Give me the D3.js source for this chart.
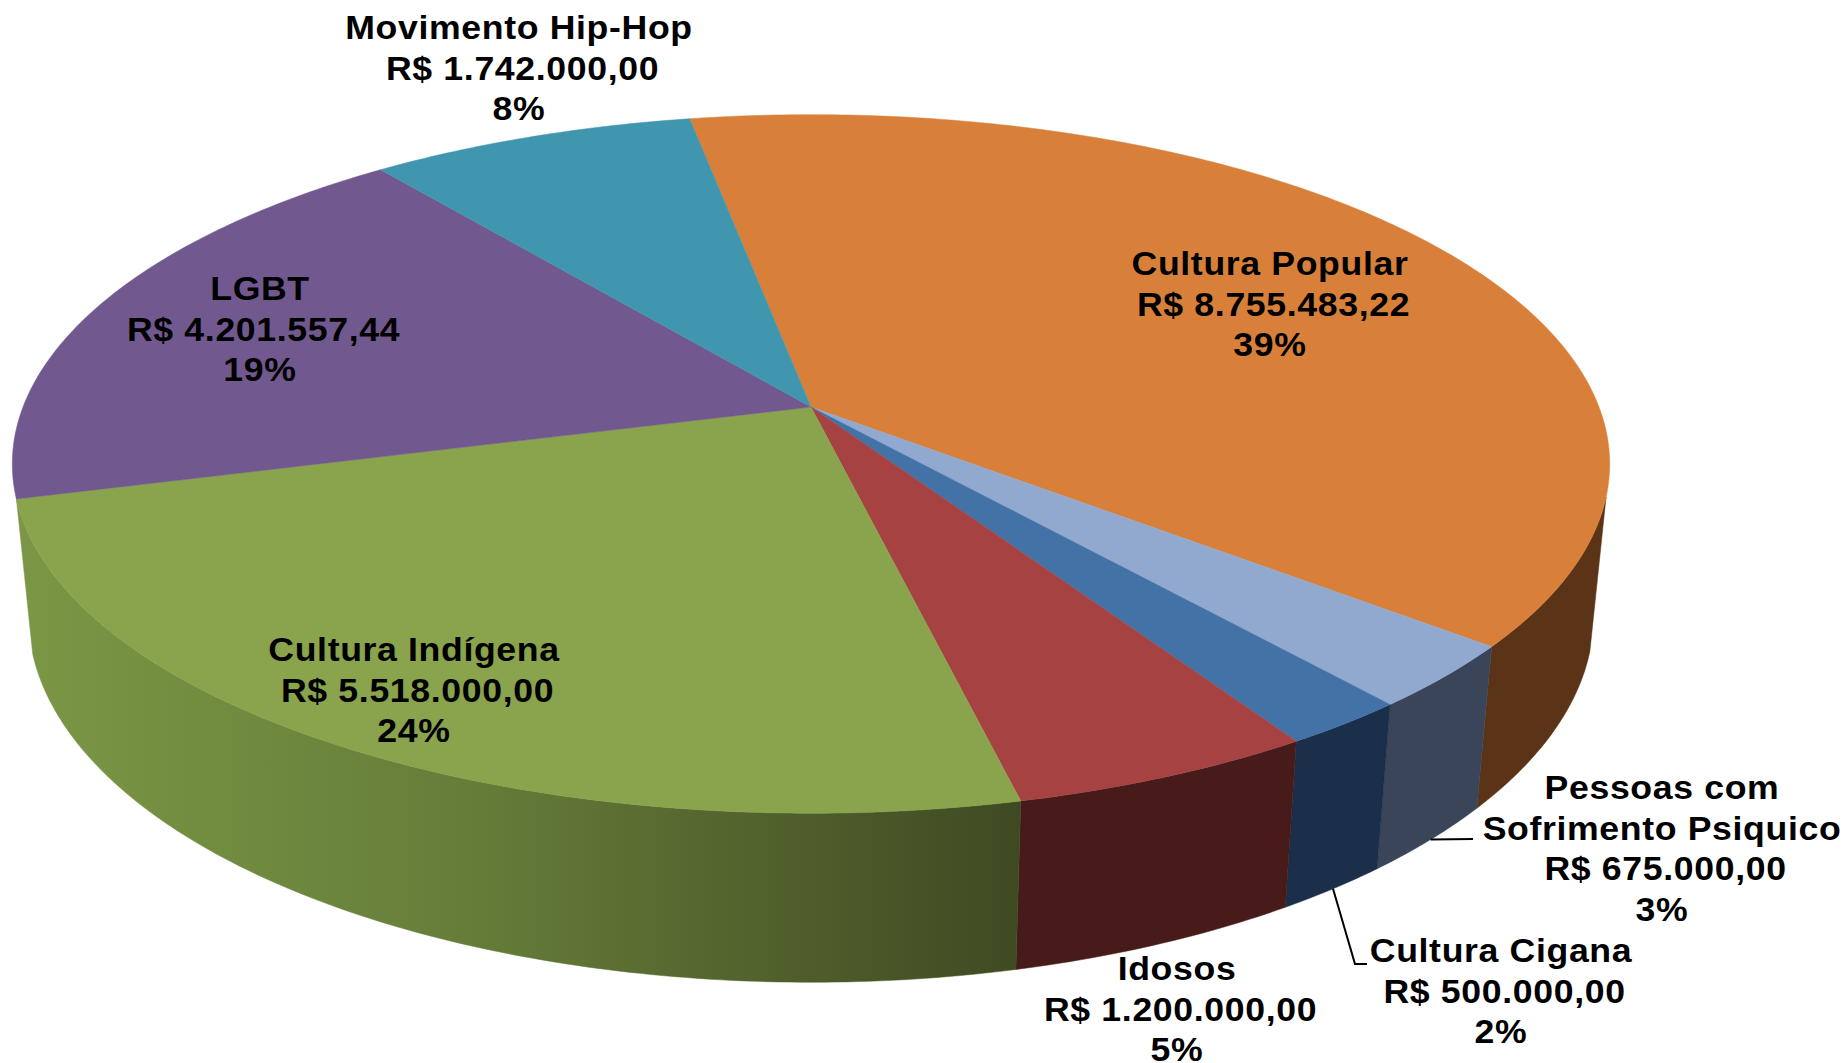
<!DOCTYPE html>
<html lang="pt">
<head>
<meta charset="utf-8">
<title>Pie chart</title>
<script src="https://cdn.jsdelivr.net/npm/d3@7"></script>
<style>
  html, body { margin: 0; padding: 0; background: #fff; }
  svg { display: block; }
  .label text { font-family: "Liberation Sans", Arial, sans-serif; font-weight: bold; font-size: 33px; letter-spacing: 0.6px; text-anchor: middle; fill: #000; }
</style>
</head>
<body>
<div id="chart"></div>
<script>
// clockwise from the top of the pie
const categories = ["Cultura Popular", "Pessoas com|Sofrimento Psiquico", "Cultura Cigana", "Idosos", "Cultura Indígena", "LGBT", "Movimento Hip-Hop"];
const values = [8755483.22, 675000, 500000, 1200000, 5518000, 4201557.44, 1742000];
const amounts = ["R$ 8.755.483,22", "R$ 675.000,00", "R$ 500.000,00", "R$ 1.200.000,00", "R$ 5.518.000,00", "R$ 4.201.557,44", "R$ 1.742.000,00"];
const percents = ["39%", "3%", "2%", "5%", "24%", "19%", "8%"];

const topColors = ["#d8803a", "#92a9cf", "#4272a6", "#a64342", "#8aa34d", "#71588f", "#4096ae"];
const wallColors = ["#5b3317", "#3a4559", "#1b2f4b", "#461b19", "url(#greenWall)", "#3f2f52", "#225566"];

// first line baseline of each label, and its centre
const labelAnchors = [[1270, 275], [1662, 799], [1501, 962], [1177, 980], [414, 661], [260, 300], [519, 39]];

const width = 1848, height = 1063;

// perspective of the pie disc, fitted by eye on the reference
const cx = 811, cy = 407;
const A = 788, B = 340, C = 153, p = 0.163, q = 0.02;
const startDeg = -10.3;
// the wall is only seen between these two angles (where its outline is tangent)
const wallFrom = 104.7 * Math.PI / 180, wallTo = 254.9 * Math.PI / 180;

function project(a, r, h) {
  const u = r * Math.sin(a), v = -r * Math.cos(a);
  const w = 1 - p * v + q * h;
  return [cx + A * u / w, cy + (B * v + C * h) / w];
}

function sampleAngles(a0, a1) {
  const n = Math.max(8, Math.ceil((a1 - a0) * 80));
  return d3.range(n + 1).map(i => a0 + (a1 - a0) * i / n);
}

const pie = d3.pie()
  .sort(null)
  .startAngle(startDeg * Math.PI / 180)
  .endAngle((startDeg + 360) * Math.PI / 180);

const slices = pie(values);
const line = d3.line();

const svg = d3.select("#chart")
  .append("svg")
  .attr("width", width)
  .attr("height", height);

const grad = svg.append("defs").append("linearGradient")
  .attr("id", "greenWall")
  .attr("gradientUnits", "userSpaceOnUse")
  .attr("x1", 17).attr("x2", 1018).attr("y1", 0).attr("y2", 0);
grad.append("stop").attr("offset", 0).attr("stop-color", "#7b9745");
grad.append("stop").attr("offset", 0.45).attr("stop-color", "#667d39");
grad.append("stop").attr("offset", 1).attr("stop-color", "#3f4a22");

svg.append("g").selectAll("path")
  .data(slices.map((d, i) => ({ a0: Math.max(d.startAngle, wallFrom), a1: Math.min(d.endAngle, wallTo), i })).filter(s => s.a1 > s.a0))
  .enter().append("path")
  .attr("d", s => {
    const angles = sampleAngles(s.a0, s.a1);
    const front = angles.map(a => project(a, 1, 0));
    const back = angles.map(a => project(a, 1, 1)).reverse();
    return line(front.concat(back)) + "Z";
  })
  .attr("fill", s => wallColors[s.i])
  .attr("stroke", s => wallColors[s.i])
  .attr("stroke-width", 0.5);

svg.append("g").selectAll("path")
  .data(slices)
  .enter().append("path")
  .attr("d", d => line([project(0, 0, 0)].concat(sampleAngles(d.startAngle, d.endAngle).map(a => project(a, 1, 0)))) + "Z")
  .attr("fill", (d, i) => topColors[i])
  .attr("stroke", (d, i) => topColors[i])
  .attr("stroke-width", 0.5);

// leader lines for the two small slices
const leaders = [
  { slice: 1, to: [[1473, 839]] },
  { slice: 2, to: [[1355, 964], [1367, 964]] }
];

svg.append("g").selectAll("path")
  .data(leaders)
  .enter().append("path")
  .attr("d", d => {
    const s = slices[d.slice];
    return line([project((s.startAngle + s.endAngle) / 2, 1, 1)].concat(d.to));
  })
  .attr("fill", "none")
  .attr("stroke", "#000")
  .attr("stroke-width", 2);

const labels = svg.append("g")
  .attr("class", "label")
  .selectAll("text")
  .data(categories)
  .enter().append("text")
  .attr("transform", (d, i) => `translate(${labelAnchors[i][0]},${labelAnchors[i][1]}) scale(1.08,1)`);

labels.each(function(d, i) {
  const rows = d.split("|").concat([amounts[i], percents[i]]);
  d3.select(this).selectAll("tspan")
    .data(rows)
    .enter().append("tspan")
    .attr("x", (r, j) => j === rows.length - 2 ? 3.3 : 0) // the amount line sits a bit to the right
    .attr("y", (r, j) => j * 40.6)
    .text(r => r);
});
</script>
</body>
</html>
